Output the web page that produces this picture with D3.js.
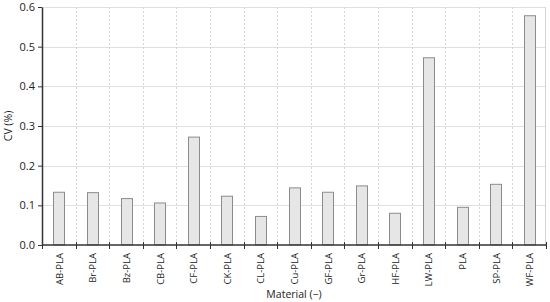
<html>
<head>
  <style>
    body { margin: 0; background: #fff; }
    svg text { font-family: "Open Sans", sans-serif; fill: #222; }
    svg .grid-h { stroke: #e0e0e0; stroke-width: 1px; }
    svg .grid-v { stroke: #d4d4d4; stroke-width: 1px; stroke-dasharray: 2,2; }
    svg .bar { fill: #e6e6e6; stroke: #8c8c8c; stroke-width: 1px; }
  </style>
</head>
<body>
  <div id="chart"></div>
  <script src="https://d3js.org/d3.v7.min.js"></script>
  <script>
  // data
  var materials = ["AB-PLA", "Br-PLA", "Bz-PLA", "CB-PLA", "CF-PLA", "CK-PLA", "CL-PLA",
                   "Cu-PLA", "GF-PLA", "Gr-PLA", "HF-PLA", "LW-PLA", "PLA", "SP-PLA", "WF-PLA"];
  var cv = [0.133, 0.132, 0.117, 0.106, 0.272, 0.123, 0.072,
            0.144, 0.133, 0.149, 0.080, 0.472, 0.095, 0.153, 0.578];
  var yTicks = [0, 0.1, 0.2, 0.3, 0.4, 0.5, 0.6];

  var W = 550, H = 302;
  var padding = { top: 7, right: 4, bottom: 57, left: 42 };
  var width = W - padding.left - padding.right,
      height = H - padding.top - padding.bottom;

  var svg = d3.select("#chart").append("svg")
      .attr("width", W)
      .attr("height", H)
    .append("g")
      .attr("transform", "translate(" + padding.left + "," + padding.top + ")");

  var xScale = d3.scaleBand().domain(materials).range([0, width]);
  var yScale = d3.scaleLinear().domain([0, 0.6]).range([height, 0]);

  // horizontal grid lines
  svg.selectAll("line.grid-h")
    .data(yTicks.slice(1))
    .enter().append("line")
      .classed("grid-h", true)
      .attr("x1", 0).attr("x2", width)
      .attr("y1", function (d) { return Math.round(yScale(d)) + 0.5; })
      .attr("y2", function (d) { return Math.round(yScale(d)) + 0.5; });

  // vertical grid lines at category boundaries
  svg.selectAll("line.grid-v")
    .data(materials.slice(1))
    .enter().append("line")
      .classed("grid-v", true)
      .attr("y1", 0).attr("y2", height)
      .attr("x1", function (d) { return Math.round(xScale(d)) + 0.5; })
      .attr("x2", function (d) { return Math.round(xScale(d)) + 0.5; });

  // right border
  svg.append("line")
    .attr("x1", width - 0.5).attr("x2", width - 0.5)
    .attr("y1", 0).attr("y2", height)
    .style("stroke", "#d4d4d4");

  // bars
  var barW = 11;
  svg.selectAll("rect.bar")
    .data(cv)
    .enter().append("rect")
      .classed("bar", true)
      .attr("x", function (d, i) { return Math.round(xScale(materials[i]) + xScale.bandwidth() / 2 - barW / 2) + 0.5; })
      .attr("y", function (d) { return yScale(d); })
      .attr("width", barW)
      .attr("height", function (d) { return height - yScale(d); });

  // y axis
  var yAxis = d3.axisLeft(yScale)
    .tickValues(yTicks)
    .tickFormat(d3.format(".1f"))
    .tickSize(4)
    .tickSizeOuter(0);

  var ya = svg.append("g").call(yAxis);
  ya.select(".domain").style("stroke", "#333").style("stroke-width", "1.5px");
  ya.selectAll(".tick line").style("stroke", "#333");
  ya.selectAll(".tick text").style("font-size", "11px").attr("x", -7);

  // x axis: ticks at category boundaries
  var bounds = materials.map(function (d) { return xScale(d); }).concat([width]);
  var xa = svg.append("g").attr("transform", "translate(0," + height + ")");
  xa.append("line")
    .attr("x1", 0).attr("x2", width)
    .attr("y1", 0).attr("y2", 0)
    .style("stroke", "#333").style("stroke-width", "1.5px");
  xa.selectAll("line.xtick")
    .data(bounds)
    .enter().append("line")
      .attr("x1", function (d) { return Math.round(d) + 0.5; })
      .attr("x2", function (d) { return Math.round(d) + 0.5; })
      .attr("y1", -3).attr("y2", 4)
      .style("stroke", "#333");

  xa.selectAll("text.xlabel")
    .data(materials)
    .enter().append("text")
      .attr("transform", function (d) {
        return "translate(" + (xScale(d) + xScale.bandwidth() / 2 + 4) + ",8) rotate(-90)";
      })
      .style("text-anchor", "end")
      .style("font-size", "9.5px")
      .text(function (d) { return d; });

  // axis titles
  svg.append("text")
    .attr("transform", "translate(" + (-30) + "," + (height / 2) + ") rotate(-90)")
    .style("text-anchor", "middle")
    .style("font-size", "10.5px")
    .text("CV (%)");

  svg.append("text")
    .attr("x", width / 2)
    .attr("y", height + 53)
    .style("text-anchor", "middle")
    .style("font-size", "10.5px")
    .text("Material (\u2212)");
  </script>
</body>
</html>
